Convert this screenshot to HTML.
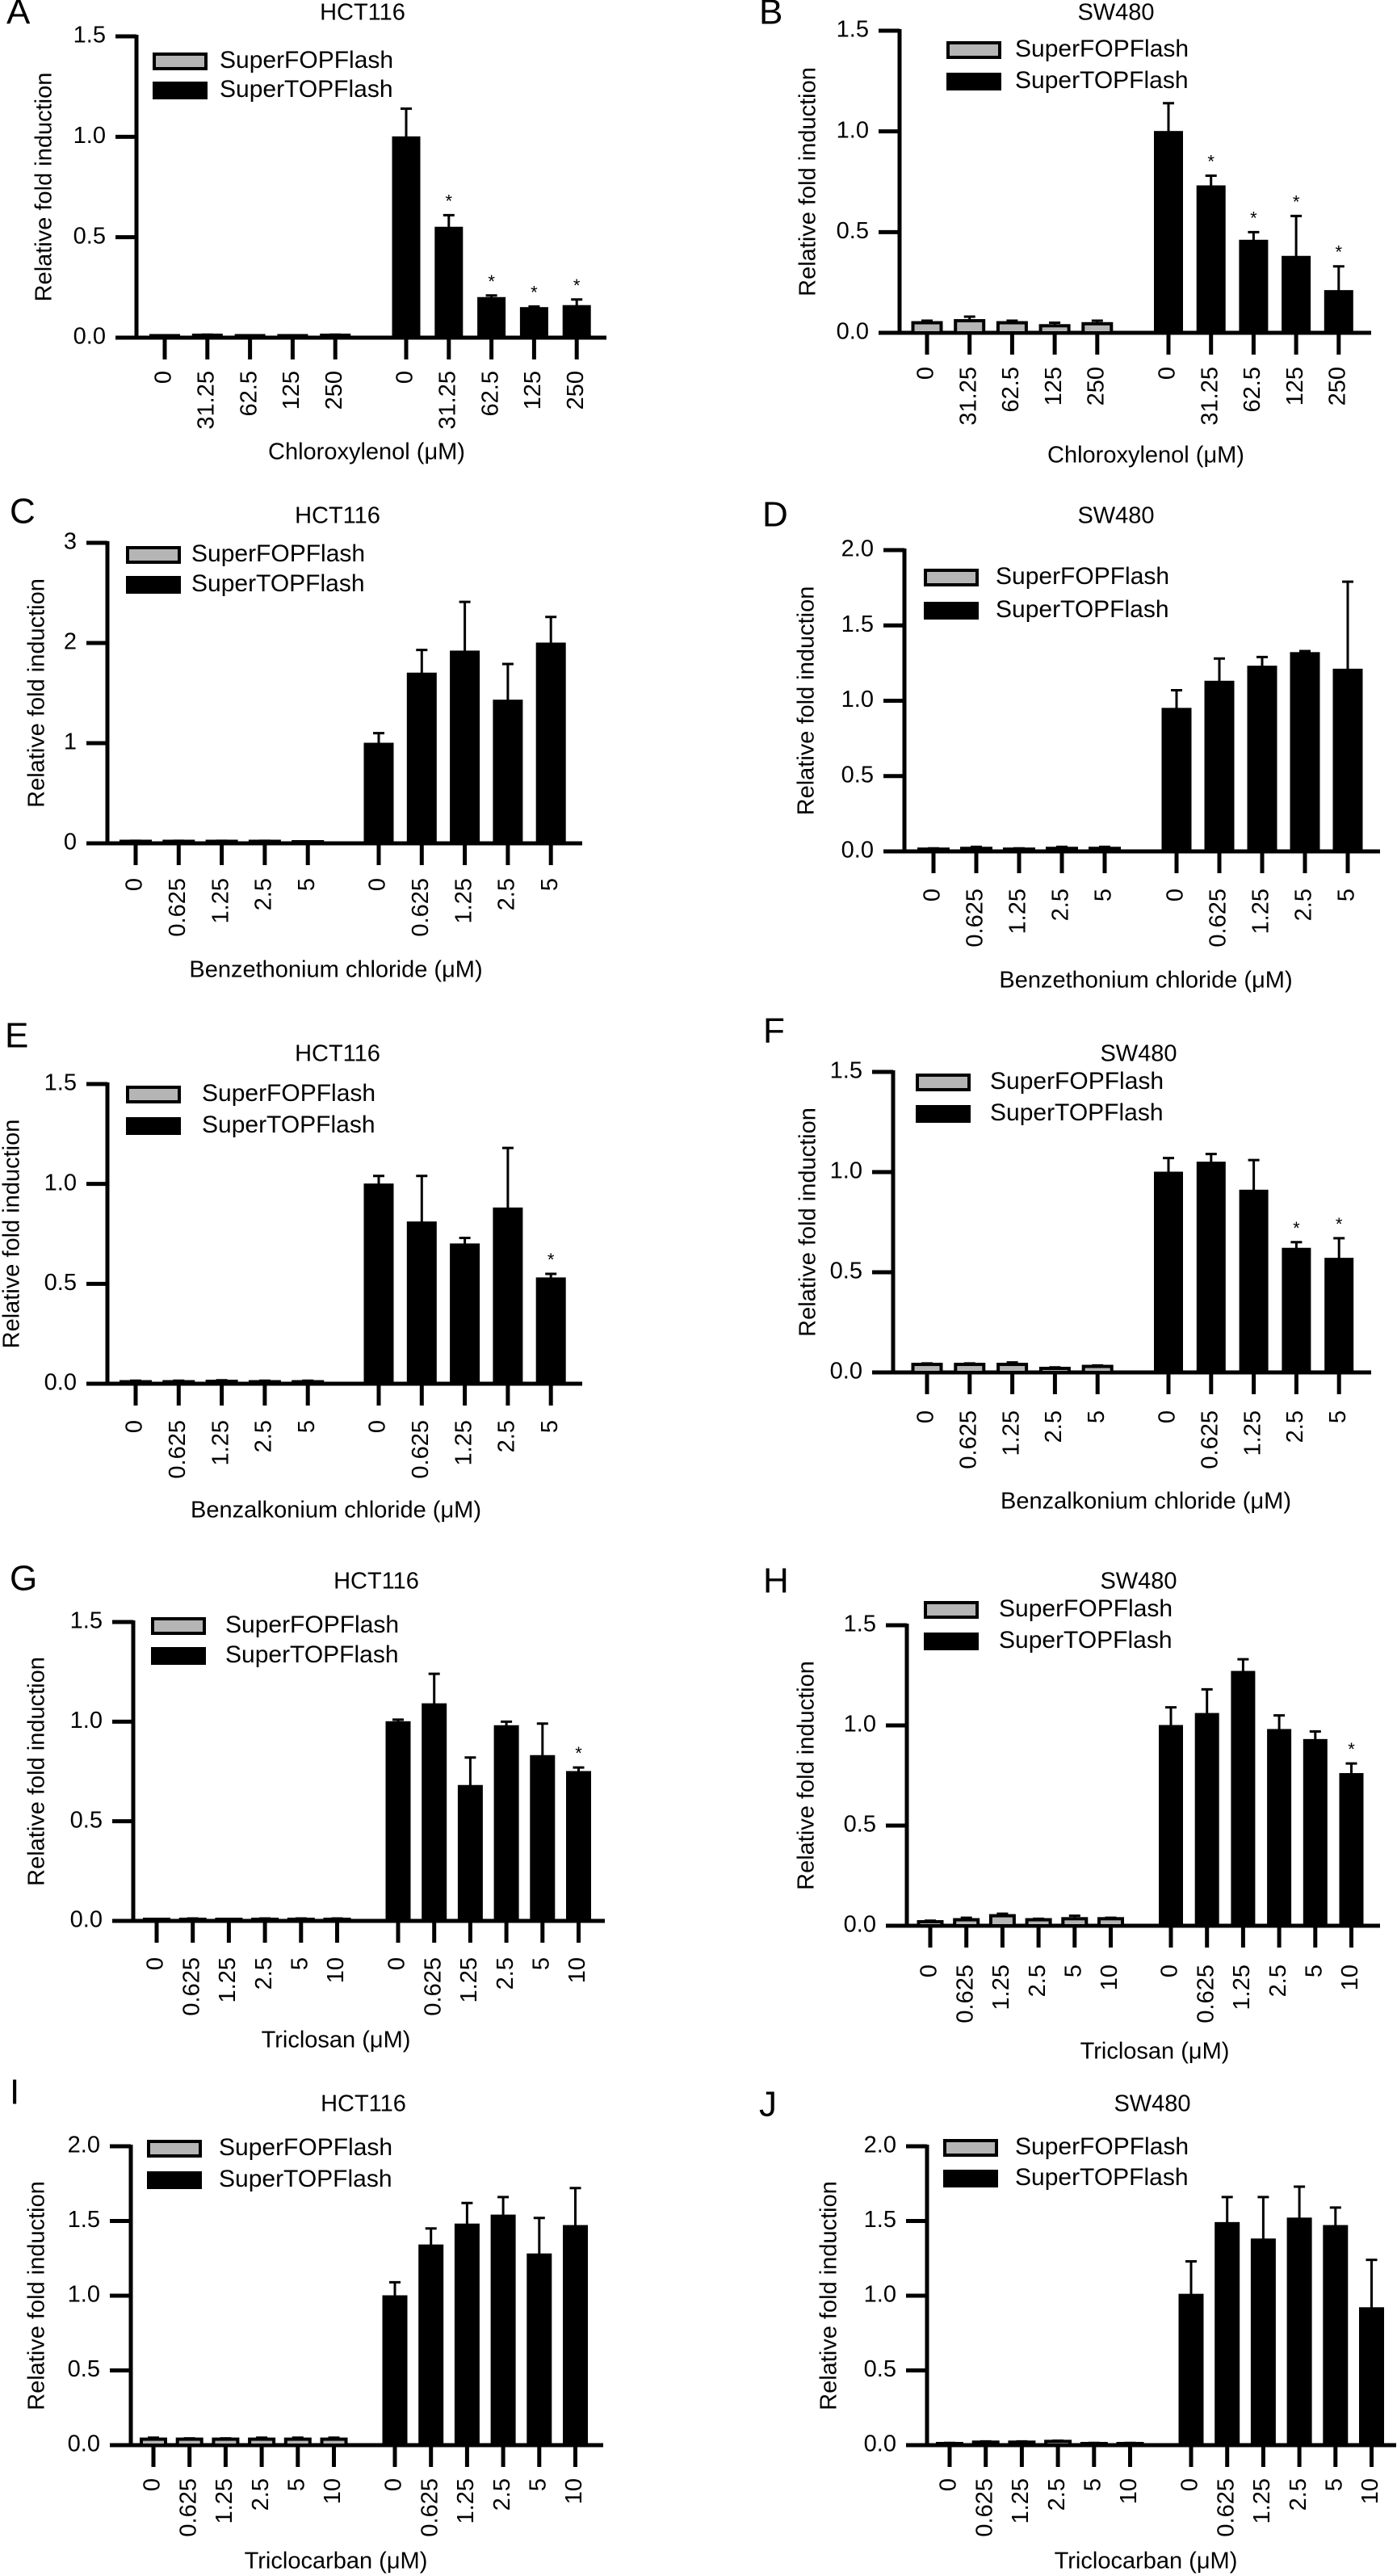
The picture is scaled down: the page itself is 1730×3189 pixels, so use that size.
<!DOCTYPE html>
<html><head><meta charset="utf-8"><title>SuperTOPFlash / SuperFOPFlash reporter assays</title>
<style>
html,body{margin:0;padding:0;background:#fff;}
svg{display:block;font-family:"Liberation Sans",Arial,sans-serif;}
</style></head>
<body>
<svg id="fig" width="1730" height="3189" viewBox="0 0 1730 3189" xmlns="http://www.w3.org/2000/svg"></svg>
<script>
// ---------- data ----------
const catsChloro = ["0","31.25","62.5","125","250"];
const catsBenz = ["0","0.625","1.25","2.5","5"];
const catsTri = ["0","0.625","1.25","2.5","5","10"];

const ticks15 = [0,0.5,1.0,1.5];
const ticks15Labels = ["0.0","0.5","1.0","1.5"];
const ticks3 = [0,1,2,3];
const ticks3Labels = ["0","1","2","3"];
const ticks20 = [0,0.5,1.0,1.5,2.0];
const ticks20Labels = ["0.0","0.5","1.0","1.5","2.0"];

// Panel A
const fopA = [0.01,0.012,0.01,0.01,0.012];
const fopErrA = [0.012,0.015,0.012,0.012,0.015];
const topA = [1.0,0.55,0.20,0.15,0.16];
const topErrA = [1.14,0.61,0.21,0.155,0.19];
const starsA = [false,true,true,true,true];
// Panel B
const fopB = [0.05,0.06,0.05,0.035,0.045];
const fopErrB = [0.06,0.08,0.06,0.05,0.06];
const topB = [1.0,0.73,0.46,0.38,0.21];
const topErrB = [1.14,0.78,0.50,0.58,0.33];
const starsB = [false,true,true,true,true];
// Panel C
const fopC = [0.02,0.02,0.02,0.02,0.01];
const fopErrC = [0.025,0.025,0.025,0.025,0.015];
const topC = [1.0,1.7,1.92,1.43,2.0];
const topErrC = [1.1,1.93,2.41,1.79,2.26];
const starsC = [false,false,false,false,false];
// Panel D
const fopD = [0.015,0.02,0.015,0.02,0.02];
const fopErrD = [0.02,0.03,0.02,0.03,0.03];
const topD = [0.95,1.13,1.23,1.32,1.21];
const topErrD = [1.07,1.28,1.29,1.33,1.79];
const starsD = [false,false,false,false,false];
// Panel E
const fopE = [0.01,0.01,0.012,0.01,0.01];
const fopErrE = [0.015,0.015,0.017,0.015,0.015];
const topE = [1.0,0.81,0.70,0.88,0.53];
const topErrE = [1.04,1.04,0.73,1.18,0.55];
const starsE = [false,false,false,false,true];
// Panel F
const fopF = [0.04,0.04,0.04,0.02,0.03];
const fopErrF = [0.045,0.045,0.05,0.025,0.035];
const topF = [1.0,1.05,0.91,0.62,0.57];
const topErrF = [1.07,1.09,1.06,0.65,0.67];
const starsF = [false,false,false,true,true];
// Panel G
const fopG = [0.005,0.008,0.006,0.008,0.008,0.008];
const fopErrG = [0.008,0.012,0.009,0.012,0.012,0.012];
const topG = [1.0,1.09,0.68,0.98,0.83,0.75];
const topErrG = [1.01,1.24,0.82,1.0,0.99,0.77];
const starsG = [false,false,false,false,false,true];
// Panel H
const fopH = [0.02,0.03,0.05,0.03,0.035,0.035];
const fopErrH = [0.025,0.04,0.06,0.035,0.05,0.04];
const topH = [1.0,1.06,1.27,0.98,0.93,0.76];
const topErrH = [1.09,1.18,1.33,1.05,0.97,0.81];
const starsH = [false,false,false,false,false,true];
// Panel I
const fopI = [0.04,0.04,0.04,0.04,0.04,0.04];
const fopErrI = [0.05,0.045,0.045,0.05,0.05,0.05];
const topI = [1.0,1.34,1.48,1.54,1.28,1.47];
const topErrI = [1.09,1.45,1.62,1.66,1.52,1.72];
const starsI = [false,false,false,false,false,false];
// Panel J
const fopJ = [0.01,0.02,0.02,0.025,0.01,0.01];
const fopErrJ = [0.015,0.025,0.025,0.03,0.015,0.015];
const topJ = [1.01,1.49,1.38,1.52,1.47,0.92];
const topErrJ = [1.23,1.66,1.66,1.73,1.59,1.24];
const starsJ = [false,false,false,false,false,false];

// ---------- layout (pixel geometry per panel) ----------
const panels = [
 {id:"a",letter:"A",lx:8,ly:18,title:"HCT116",tx:449,ty:17,ax:169,yTopPx:45,y0Px:418,xEnd:751,max:1.5,ticks:ticks15,tickLabels:ticks15Labels,
  cats:catsChloro,fop:fopA,fopErr:fopErrA,top:topA,topErr:topErrA,stars:starsA,c1:204,sp:52.8,c2:503,bw:34,
  legX:189,legY1:76,legY2:112,legTx:272,ylabX:56,labTop:459,xt:"Chloroxylenol (μM)",xtX:454,xtY:561},
 {id:"b",letter:"B",lx:940,ly:18,title:"SW480",tx:1382,ty:17,ax:1114,yTopPx:38,y0Px:412,xEnd:1698,max:1.5,ticks:ticks15,tickLabels:ticks15Labels,
  cats:catsChloro,fop:fopB,fopErr:fopErrB,top:topB,topErr:topErrB,stars:starsB,c1:1148,sp:52.7,c2:1447,bw:35,
  legX:1172,legY1:62,legY2:101,legTx:1257,ylabX:1002,labTop:454,xt:"Chloroxylenol (μM)",xtX:1419,xtY:565},
 {id:"c",letter:"C",lx:12,ly:636,title:"HCT116",tx:418,ty:640,ax:133,yTopPx:672,y0Px:1044,xEnd:721,max:3,ticks:ticks3,tickLabels:ticks3Labels,
  cats:catsBenz,fop:fopC,fopErr:fopErrC,top:topC,topErr:topErrC,stars:starsC,c1:168,sp:53.3,c2:469,bw:36,
  legX:156,legY1:687,legY2:724,legTx:237,ylabX:47,labTop:1087,xt:"Benzethonium chloride (μM)",xtX:416,xtY:1202},
 {id:"d",letter:"D",lx:944,ly:640,title:"SW480",tx:1382,ty:640,ax:1120,yTopPx:681,y0Px:1054,xEnd:1709,max:2,ticks:ticks20,tickLabels:ticks20Labels,
  cats:catsBenz,fop:fopD,fopErr:fopErrD,top:topD,topErr:topErrD,stars:starsD,c1:1156,sp:53,c2:1457,bw:36,
  legX:1144,legY1:715,legY2:756,legTx:1233,ylabX:1000,labTop:1100,xt:"Benzethonium chloride (μM)",xtX:1419,xtY:1215},
 {id:"e",letter:"E",lx:6,ly:1285,title:"HCT116",tx:418,ty:1306,ax:133,yTopPx:1342,y0Px:1713,xEnd:721,max:1.5,ticks:ticks15,tickLabels:ticks15Labels,
  cats:catsBenz,fop:fopE,fopErr:fopErrE,top:topE,topErr:topErrE,stars:starsE,c1:168,sp:53.3,c2:469,bw:36,
  legX:156,legY1:1355,legY2:1394,legTx:250,ylabX:16,labTop:1758,xt:"Benzalkonium chloride (μM)",xtX:416,xtY:1871},
 {id:"f",letter:"F",lx:945,ly:1279,title:"SW480",tx:1410,ty:1306,ax:1106,yTopPx:1327,y0Px:1699,xEnd:1698,max:1.5,ticks:ticks15,tickLabels:ticks15Labels,
  cats:catsBenz,fop:fopF,fopErr:fopErrF,top:topF,topErr:topErrF,stars:starsF,c1:1148,sp:52.8,c2:1447,bw:35,
  legX:1134,legY1:1340,legY2:1379,legTx:1226,ylabX:1002,labTop:1746,xt:"Benzalkonium chloride (μM)",xtX:1419,xtY:1860},
 {id:"g",letter:"G",lx:12,ly:1957,title:"HCT116",tx:466,ty:1959,ax:165,yTopPx:2008,y0Px:2378,xEnd:749,max:1.5,ticks:ticks15,tickLabels:ticks15Labels,
  cats:catsTri,fop:fopG,fopErr:fopErrG,top:topG,topErr:topErrG,stars:starsG,c1:194,sp:44.7,c2:493,bw:30,
  legX:187,legY1:2013,legY2:2050,legTx:279,ylabX:47,labTop:2423,xt:"Triclosan (μM)",xtX:416,xtY:2527},
 {id:"h",letter:"H",lx:945,ly:1960,title:"SW480",tx:1410,ty:1959,ax:1123,yTopPx:2012,y0Px:2384,xEnd:1709,max:1.5,ticks:ticks15,tickLabels:ticks15Labels,
  cats:catsTri,fop:fopH,fopErr:fopErrH,top:topH,topErr:topErrH,stars:starsH,c1:1152,sp:44.7,c2:1450,bw:29,
  legX:1144,legY1:1993,legY2:2032,legTx:1237,ylabX:1000,labTop:2432,xt:"Triclosan (μM)",xtX:1430,xtY:2541},
 {id:"i",letter:"I",lx:12,ly:2593,title:"HCT116",tx:450,ty:2606,ax:162,yTopPx:2657,y0Px:3027,xEnd:747,max:2,ticks:ticks20,tickLabels:ticks20Labels,
  cats:catsTri,fop:fopI,fopErr:fopErrI,top:topI,topErr:topErrI,stars:starsI,c1:190,sp:44.7,c2:489,bw:30,
  legX:182,legY1:2660,legY2:2699,legTx:271,ylabX:47,labTop:3068,xt:"Triclocarban (μM)",xtX:416,xtY:3172},
 {id:"j",letter:"J",lx:940,ly:2608,title:"SW480",tx:1427,ty:2606,ax:1148,yTopPx:2657,y0Px:3027,xEnd:1729,max:2,ticks:ticks20,tickLabels:ticks20Labels,
  cats:catsTri,fop:fopJ,fopErr:fopErrJ,top:topJ,topErr:topErrJ,stars:starsJ,c1:1176,sp:44.7,c2:1475,bw:30,
  legX:1168,legY1:2659,legY2:2697,legTx:1257,ylabX:1028,labTop:3068,xt:"Triclocarban (μM)",xtX:1419,xtY:3172}
];

const NS = "http://www.w3.org/2000/svg";
const fig = document.getElementById("fig");
function mk(tag, attrs, parent){
  const e = document.createElementNS(NS, tag);
  for (const k in attrs) e.setAttribute(k, attrs[k]);
  (parent||fig).appendChild(e);
  return e;
}

panels.forEach(p => {
  const g = mk("g", {});
  
  
  const yScale = v => p.y0Px - (v / p.max) * (p.y0Px - p.yTopPx);
  const xScale = (grp, i) => (grp === 0 ? p.c1 : p.c2) + i * p.sp;

  // panel letter
  const L = mk("text", {x:p.lx, y:p.ly, "font-size":44, "dominant-baseline":"middle", fill:"#000"}, g);
  L.textContent = p.letter;
  
  
  // title
  const T = mk("text", {x:p.tx, y:p.ty, "font-size":29, "text-anchor":"middle", "dominant-baseline":"middle"}, g);
  T.textContent = p.title;
  
  

  // y axis
  const ya = mk("line", {x1:p.ax, y1:p.yTopPx-2, x2:p.ax, y2:p.y0Px+2, stroke:"#000","stroke-width":5}, g);
  
  
  p.ticks.forEach((t, k) => {
    const yy = yScale(t);
    const tl = mk("line", {x1:p.ax-26, y1:yy, x2:p.ax, y2:yy, stroke:"#000","stroke-width":5}, g);
    
    
    const tx = mk("text", {x:p.ax-38, y:yy, "font-size":29, "text-anchor":"end", "dominant-baseline":"middle"}, g);
    tx.textContent = p.tickLabels[k];
    
    
  });
  // x axis
  const xa = mk("line", {x1:p.ax-26, y1:p.y0Px, x2:p.xEnd, y2:p.y0Px, stroke:"#000","stroke-width":5}, g);
  
  

  // y label
  const ymid = (p.yTopPx + p.y0Px) / 2;
  const yl = mk("text", {x:p.ylabX, y:ymid, "font-size":29, "text-anchor":"middle", "dominant-baseline":"middle", transform:`rotate(-90 ${p.ylabX} ${ymid})`}, g);
  yl.textContent = "Relative fold induction";
  
  

  // bars
  [0,1].forEach(grp => {
    const vals = grp === 0 ? p.fop : p.top;
    const errs = grp === 0 ? p.fopErr : p.topErr;
    vals.forEach((v, i) => {
      const cx = xScale(grp, i);
      const yv = yScale(v);
      // x tick
      const xt = mk("line", {x1:cx, y1:p.y0Px, x2:cx, y2:p.y0Px+27, stroke:"#000","stroke-width":5}, g);
      
      
      // error bar
      const ye = yScale(errs[i]);
      const eb = mk("path", {d:`M${cx} ${yv} V${ye} M${cx-7} ${ye} H${cx+7}`, stroke:"#000","stroke-width":3, fill:"none"}, g);
      
      
      // bar
      const h = Math.max(p.y0Px - yv, 2);
      const r = mk("rect", {x:cx-p.bw/2, y:p.y0Px-h, width:p.bw, height:h,
        fill: grp===0 ? "#b5b5b5" : "#000", stroke:"#000", "stroke-width": grp===0 ? 4 : 1}, g);
      
      
      // star
      if (grp === 1 && p.stars[i]) {
        const s = mk("text", {x:cx, y:ye-10, "font-size":22, "text-anchor":"middle"}, g);
        s.textContent = "*";
        
        
      }
      // category label (rotated)
      const ly = p.labTop;
      const cl = mk("text", {x:cx, y:ly, "font-size":29, "text-anchor":"end", "dominant-baseline":"middle", transform:`rotate(-90 ${cx} ${ly})`}, g);
      cl.textContent = p.cats[i];
      
      
    });
  });

  // x axis title
  const xtt = mk("text", {x:p.xtX, y:p.xtY, "font-size":29, "text-anchor":"middle", "dominant-baseline":"middle"}, g);
  xtt.textContent = p.xt;
  
  

  // legend
  const sw1 = mk("rect", {x:p.legX+2, y:p.legY1-9, width:64, height:18, fill:"#b5b5b5", stroke:"#000","stroke-width":4}, g);
  
  
  const lt1 = mk("text", {x:p.legTx, y:p.legY1, "font-size":30, "dominant-baseline":"middle"}, g);
  lt1.textContent = "SuperFOPFlash";
  
  
  const sw2 = mk("rect", {x:p.legX, y:p.legY2-11, width:68, height:22, fill:"#000"}, g);
  
  
  const lt2 = mk("text", {x:p.legTx, y:p.legY2, "font-size":30, "dominant-baseline":"middle"}, g);
  lt2.textContent = "SuperTOPFlash";
  
  
});
</script>
</body></html>
